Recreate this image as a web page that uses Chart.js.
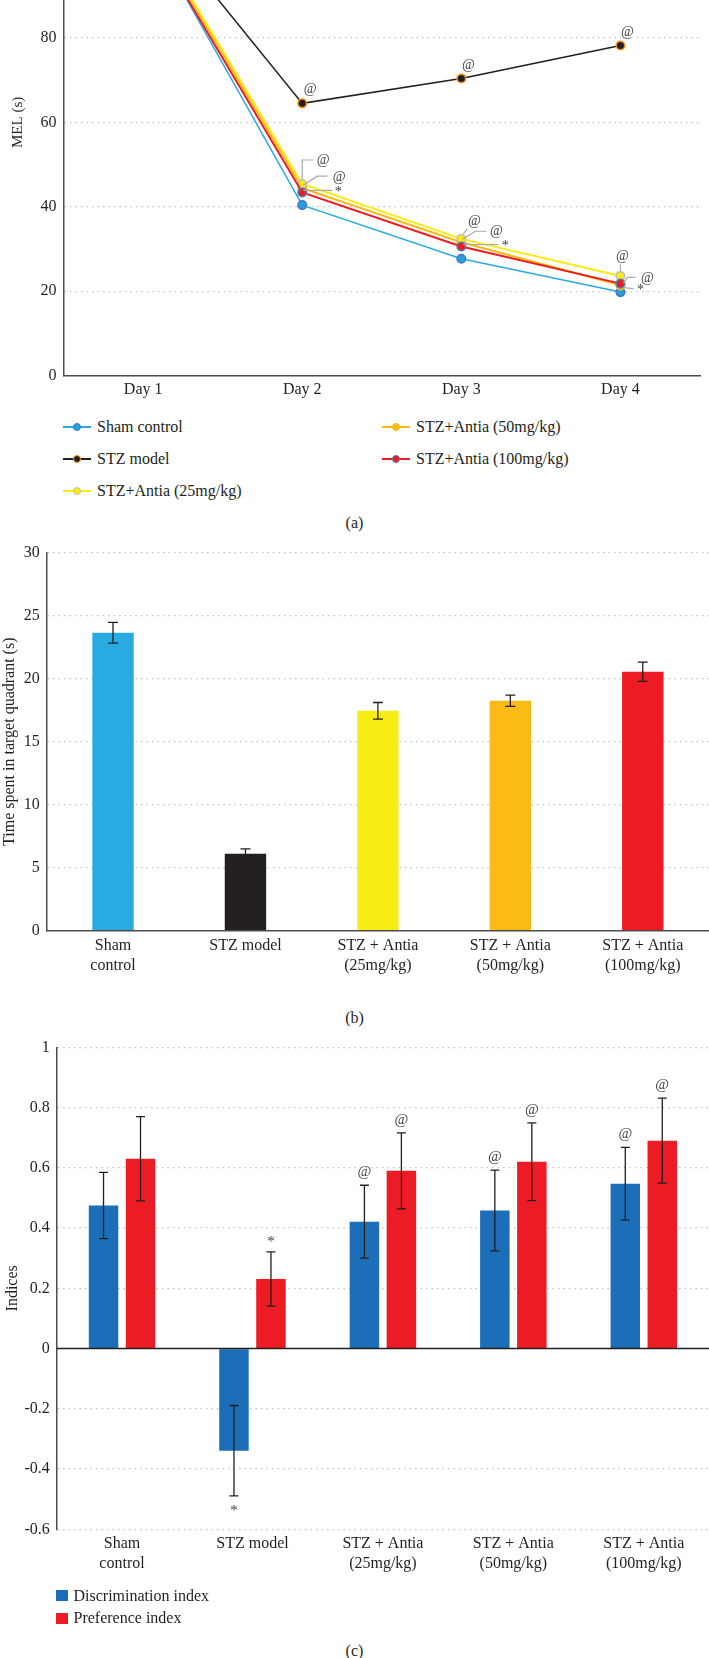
<!DOCTYPE html>
<html>
<head>
<meta charset="utf-8">
<script src="https://cdn.jsdelivr.net/npm/chart.js@4.4.0/dist/chart.umd.min.js"></script>
<style>
html,body{margin:0;padding:0;background:#fff;}
body{position:relative;width:709px;height:1658px;overflow:hidden;font-family:"Liberation Serif","Times New Roman",serif;color:#231f20;}
canvas{position:absolute;left:0;}
#chartA{top:-150px;}
#chartB{top:530px;}
#chartC{top:1030px;}
.cap{position:absolute;left:0;width:709px;text-align:center;font-size:16px;line-height:20px;}
.li{position:absolute;height:20px;line-height:20px;font-size:16px;white-space:nowrap;}
.li .ln{position:absolute;left:0;top:9px;width:28px;height:2px;}
.li .dot{position:absolute;left:9.5px;top:5.5px;width:6px;height:6px;border:1.5px solid;border-radius:50%;}
.li .sq{position:absolute;left:0;top:4.5px;width:12px;height:11px;}
.li .tx{position:absolute;left:34px;top:0;}
</style>
</head>
<body>
<canvas id="chartA" width="709" height="560"></canvas>
<div class="cap" style="top:513px">(a)</div>
<canvas id="chartB" width="709" height="460"></canvas>
<div class="cap" style="top:1008px">(b)</div>
<canvas id="chartC" width="709" height="560"></canvas>
<div class="cap" style="top:1641px">(c)</div>
<script>
// (a) mean escape latency per day
const days = ['Day 1', 'Day 2', 'Day 3', 'Day 4'];
const shamMEL = [107.5, 40.4, 27.7, 19.8];
const stzMEL = [111, 64.5, 70.4, 78.2];
const antia25MEL = [108.5, 45.4, 32.4, 23.6];
const antia50MEL = [108, 44.4, 31.6, 21.4];
const antia100MEL = [107, 43.4, 30.6, 21.8];
const stzMarks = ['', '@', '@', '@'];
const antia25Marks = ['', '@', '@', '@'];
const antia50Marks = ['', '@', '@', '@'];
const antia100Marks = ['', '*', '*', '*'];

// (b) time in target quadrant
const groups = [['Sham', 'control'], 'STZ model', ['STZ + Antia', '(25mg/kg)'], ['STZ + Antia', '(50mg/kg)'], ['STZ + Antia', '(100mg/kg)']];
const quadrantTime = [23.65, 6.1, 17.45, 18.25, 20.55];
const quadrantErr = [0.82, 0.4, 0.66, 0.45, 0.77];

// (c) discrimination / preference indices
const discIndex = [0.475, -0.339, 0.421, 0.458, 0.547];
const discErr = [0.11, 0.15, 0.121, 0.134, 0.121];
const prefIndex = [0.630, 0.231, 0.590, 0.620, 0.690];
const prefErr = [0.14, 0.09, 0.126, 0.129, 0.141];
const discMarks = ['', '*', '@', '@', '@'];
const prefMarks = ['', '*', '@', '@', '@'];

const FONT = '"Liberation Serif", "Times New Roman", serif';
const INK = '#231f20';

// label offsets (px from the point) and leader lines for panel (a)
const leadStz = [null, {dx: 8, dy: -14}, {dx: 7, dy: -13}, {dx: 7, dy: -13}];
const lead25 = [null,
  {dx: 21, dy: -24, lead: [[0, -5], [0, -24], [11, -24]]},
  {dx: 13, dy: -18, lead: [[2, -5], [6, -10]]},
  {dx: 2, dy: -20, lead: [[0, -5], [0, -12]]}];
const lead50 = [null,
  {dx: 37, dy: -11, lead: [[1, -3], [15, -12], [25, -12]]},
  {dx: 35, dy: -11, lead: [[1, -3], [14, -11], [25, -11]]},
  {dx: 27, dy: -7, lead: [[3, -2], [7, -8], [15, -8]]}];
const lead100 = [null,
  {dx: 36, dy: -4, lead: [[1, -2], [30, -2]]},
  {dx: 44, dy: -4, lead: [[2, -2], [37, -2]]},
  {dx: 20, dy: 3, lead: [[3, 4], [13, 5]]}];

const melSeries = [
  {label: 'Sham control', data: shamMEL, line: '#29abe2', fill: '#2b9ddb', edge: '#3d7cc4', width: 1.5, order: 3},
  {label: 'STZ model', data: stzMEL, marks: stzMarks, lay: leadStz, line: INK, fill: INK, edge: '#f7941d', width: 1.5, order: 4},
  {label: 'STZ+Antia (25mg/kg)', data: antia25MEL, marks: antia25Marks, lay: lead25, line: '#fcea10', fill: '#fcea10', edge: '#bcbec0', width: 2, order: 1},
  {label: 'STZ+Antia (50mg/kg)', data: antia50MEL, marks: antia50Marks, lay: lead50, line: '#fdb913', fill: '#fdb913', edge: '#fdb913', width: 2, order: 2},
  {label: 'STZ+Antia (100mg/kg)', data: antia100MEL, marks: antia100Marks, lay: lead100, line: '#ed1c24', fill: '#ed1c24', edge: '#4a7fc1', width: 2, order: 0}
];

function tickFont(size) { return {family: FONT, size: size || 16, lineHeight: 1.25}; }

function yAxis(min, max, step, title, titlePad, width) {
  return {
    min, max,
    ticks: {stepSize: step, padding: 7, color: INK, font: tickFont(), callback: v => String(+(+v).toFixed(2))},
    grid: {drawTicks: false, lineWidth: 1.2, color: c => (c.tick && Math.abs(c.tick.value) < 1e-9) ? 'rgba(0,0,0,0)' : '#c4c4c4'},
    border: {display: true, color: '#4d4d4d', width: 1.5, dash: [1.5, 4]},
    title: {display: true, text: title, color: INK, font: {family: FONT, size: title === 'MEL (s)' ? 15 : 16, lineHeight: 1.2}, padding: {top: titlePad, bottom: 0}},
    afterFit: s => { s.width = width; }
  };
}

function xAxis(height, pad, showBorder) {
  return {
    offset: true,
    grid: {display: false, drawTicks: false},
    border: {display: showBorder, color: '#4d4d4d', width: 1.5},
    ticks: {padding: pad, color: INK, font: tickFont(), autoSkip: false, maxRotation: 0},
    afterFit: s => { s.height = height; }
  };
}

const lineMarks = {
  id: 'lineMarks',
  afterDatasetsDraw(chart) {
    const ctx = chart.ctx;
    ctx.save();
    ctx.font = '14px ' + FONT;
    ctx.textAlign = 'center';
    ctx.textBaseline = 'middle';
    chart.data.datasets.forEach((ds, di) => {
      if (!ds.marks) return;
      const pts = chart.getDatasetMeta(di).data;
      ds.marks.forEach((m, i) => {
        const lay = ds.lay[i];
        if (!m || !lay) return;
        const p = pts[i];
        if (lay.lead) {
          ctx.strokeStyle = '#a7a9ac';
          ctx.lineWidth = 1.2;
          ctx.beginPath();
          lay.lead.forEach(([lx, ly], k) => k ? ctx.lineTo(p.x + lx, p.y + ly) : ctx.moveTo(p.x + lx, p.y + ly));
          ctx.stroke();
        }
        ctx.fillStyle = '#414042';
        ctx.fillText(m, p.x + lay.dx, p.y + lay.dy + (m === '*' ? 3.5 : 0));
      });
    });
    ctx.restore();
  }
};

const zeroLine = {
  id: 'zeroLine',
  afterDatasetsDraw(chart) {
    const {ctx, chartArea} = chart;
    const y = chart.scales.y.getPixelForValue(0);
    ctx.save();
    ctx.strokeStyle = INK;
    ctx.lineWidth = 1.5;
    ctx.beginPath();
    ctx.moveTo(chartArea.left, y);
    ctx.lineTo(chartArea.right, y);
    ctx.stroke();
    ctx.restore();
  }
};

const errBars = {
  id: 'errBars',
  afterDatasetsDraw(chart, args, opts) {
    const ctx = chart.ctx, ys = chart.scales.y;
    const cap = opts.cap || 5;
    chart.data.datasets.forEach((ds, di) => {
      if (!ds.errs) return;
      chart.getDatasetMeta(di).data.forEach((bar, i) => {
        const v = ds.data[i], e = ds.errs[i];
        const top = ys.getPixelForValue(v + e), bot = ys.getPixelForValue(v - e);
        ctx.save();
        ctx.strokeStyle = INK;
        ctx.lineWidth = 1.3;
        ctx.beginPath();
        ctx.moveTo(bar.x, top); ctx.lineTo(bar.x, bot);
        ctx.moveTo(bar.x - cap, top); ctx.lineTo(bar.x + cap, top);
        ctx.moveTo(bar.x - cap, bot); ctx.lineTo(bar.x + cap, bot);
        ctx.stroke();
        const m = ds.marks && ds.marks[i];
        if (m) {
          ctx.font = '15px ' + FONT;
          ctx.fillStyle = '#414042';
          ctx.textAlign = 'center';
          ctx.textBaseline = 'middle';
          const ty = v >= 0 ? top - 13 : bot + 12;
          ctx.fillText(m, bar.x, ty + (m === '*' ? 3.5 : 0));
        }
        ctx.restore();
      });
    });
  }
};

const base = {responsive: false, animation: false, devicePixelRatio: 1,
  plugins: {legend: {display: false}, tooltip: {enabled: false}}};

// (a)
new Chart(document.getElementById('chartA'), {
  type: 'line',
  data: {
    labels: days,
    datasets: melSeries.map(s => ({
      label: s.label, data: s.data, marks: s.marks, lay: s.lay, order: s.order,
      borderColor: s.line, borderWidth: s.width, backgroundColor: s.fill,
      pointBackgroundColor: s.fill, pointBorderColor: s.edge, pointBorderWidth: 1.5,
      pointRadius: 4.3, tension: 0, fill: false
    }))
  },
  options: Object.assign({}, base, {
    layout: {padding: {top: 19, right: 9, left: 0, bottom: 0}},
    scales: {
      x: xAxis(34.3, 4, true),
      y: yAxis(0, 120, 20, 'MEL (s)', 9.5, 63.6)
    }
  }),
  plugins: [lineMarks]
});

melSeries.forEach((s, i) => {
  const d = document.createElement('div');
  d.className = 'li';
  d.style.left = (i < 3 ? 63 : 382) + 'px';
  d.style.top = (417.3 + (i % 3) * 32) + 'px';
  d.innerHTML = '<span class="ln" style="background:' + s.line + '"></span>' +
    '<span class="dot" style="background:' + s.fill + ';border-color:' + s.edge + '"></span>' +
    '<span class="tx">' + s.label + '</span>';
  document.body.appendChild(d);
});

// (b)
new Chart(document.getElementById('chartB'), {
  type: 'bar',
  data: {
    labels: groups,
    datasets: [{data: quadrantTime, errs: quadrantErr,
      backgroundColor: ['#29abe2', '#231f20', '#f7ec13', '#fbba14', '#ed1c24'],
      barPercentage: 0.3125, categoryPercentage: 1}]
  },
  options: Object.assign({}, base, {
    layout: {padding: {top: 22.7, right: 0, left: 0, bottom: 0}},
    plugins: Object.assign({}, base.plugins, {errBars: {cap: 5}}),
    scales: {
      x: xAxis(59.3, 5, true),
      y: yAxis(0, 30, 5, 'Time spent in target quadrant (s)', 0, 46.8)
    }
  }),
  plugins: [errBars]
});

// (c)
new Chart(document.getElementById('chartC'), {
  type: 'bar',
  data: {
    labels: groups,
    datasets: [
      {label: 'Discrimination index', data: discIndex, errs: discErr, marks: discMarks, backgroundColor: '#1b6eb7', barPercentage: 0.797, categoryPercentage: 0.567},
      {label: 'Preference index', data: prefIndex, errs: prefErr, marks: prefMarks, backgroundColor: '#ed1c24', barPercentage: 0.797, categoryPercentage: 0.567}
    ]
  },
  options: Object.assign({}, base, {
    layout: {padding: {top: 17.3, right: 0, left: 0, bottom: 0}},
    plugins: Object.assign({}, base.plugins, {errBars: {cap: 4.5}}),
    scales: {
      x: xAxis(60.7, 4, false),
      y: yAxis(-0.6, 1, 0.2, 'Indices', 3, 56.8)
    }
  }),
  plugins: [zeroLine, errBars]
});

[['Discrimination index', '#1b6eb7'], ['Preference index', '#ed1c24']].forEach(([t, c], i) => {
  const d = document.createElement('div');
  d.className = 'li';
  d.style.left = '56px';
  d.style.top = (1585.5 + i * 22.5) + 'px';
  d.innerHTML = '<span class="sq" style="background:' + c + '"></span><span class="tx" style="left:17.5px">' + t + '</span>';
  document.body.appendChild(d);
});
</script>
</body>
</html>
